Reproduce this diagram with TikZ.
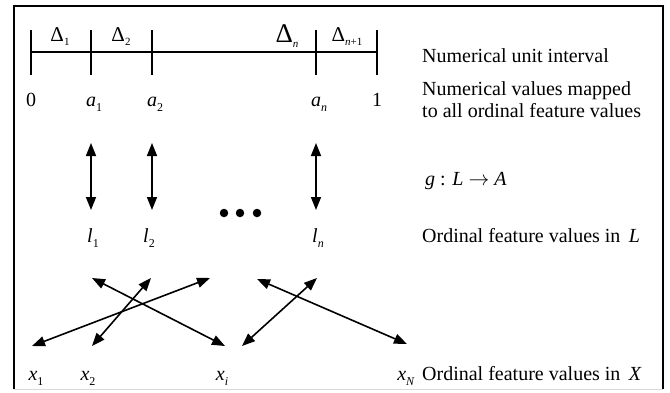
\documentclass[tikz,border=0pt]{standalone}
\usepackage{fontspec}
\setmainfont{Liberation Serif}
\usetikzlibrary{arrows.meta}
\newcommand{\sbx}[1]{\raisebox{-0.28em}{\fontsize{12}{12}\selectfont #1}}
\newcommand{\sbd}[1]{\raisebox{-0.22em}{\fontsize{11}{11}\selectfont #1}}
\newcommand{\vr}[2]{\textit{#1}\sbx{#2}}
\begin{document}
\begin{tikzpicture}[x=1pt,y=-1pt,
  font=\fontsize{20}{23}\selectfont,
  axis/.style={line width=1.8pt},
  dbl/.style={line width=1.6pt,{Triangle[length=13pt,width=10pt]}-{Triangle[length=13pt,width=10pt]}},
  lbl/.style={inner sep=0pt,anchor=base},
  txt/.style={inner sep=0pt,anchor=base west},
  dot/.style={circle,fill=black,inner sep=0pt,minimum size=8.5pt}]
\useasboundingbox (0,0) rectangle (670,392);
% frame
\draw[line width=1.6pt] (14,389) -- (14,6) -- (663,6) -- (663,389);
\draw[line width=1pt,black!15] (14,389) -- (663,389);
% number line
\draw[axis] (31,52) -- (377,52);
\foreach \t in {31,91,152,316,377} \draw[axis] (\t,30) -- (\t,75);
% interval labels
\node[lbl] (d1) at (60,41) {\fontsize{21}{21}\selectfont Δ\sbd{1}};
\node[lbl] (d2) at (121,41) {\fontsize{21}{21}\selectfont Δ\sbd{2}};
\node[lbl] (dn) at (287,42) {\fontsize{27}{27}\selectfont Δ\sbd{\textit{n}}};
\node[lbl] (dn1) at (347,41) {\fontsize{21}{21}\selectfont Δ\sbd{\textit{n}+1}};
% point labels
\node[lbl] (z0) at (31,106) {0};
\node[lbl] (a1) at (94,106) {\vr{a}{1}};
\node[lbl] (a2) at (155,106) {\vr{a}{2}};
\node[lbl] (an) at (319,106) {\vr{a}{\textit{n}}};
\node[lbl] (o1) at (377,106) {1};
% right texts
\node[txt] (t1) at (422,62) {Numerical unit interval};
\node[txt] (t2) at (422,95) {Numerical values mapped};
\node[txt] (t3) at (422,117) {to all ordinal feature values};
\node[txt] (t4) at (425,185) {\textit{g} : \textit{L} $\rightarrow$ \textit{A}};
\node[txt] (t5) at (422,242) {Ordinal feature values in\, \textit{L}};
\node[txt] (t6) at (422,380) {Ordinal feature values in\, \textit{X}};
% vertical mapping arrows
\coordinate (u1) at (91,143); \coordinate (v1) at (91,210);
\coordinate (u2) at (152,143); \coordinate (v2) at (152,210);
\coordinate (un) at (316,143); \coordinate (vn) at (316,210);
\draw[dbl] (u1) -- (v1);
\draw[dbl] (u2) -- (v2);
\draw[dbl] (un) -- (vn);
% dots
\node[dot] (p1) at (224,213) {};
\node[dot] (p2) at (240,213) {};
\node[dot] (p3) at (257,213) {};
% l labels
\node[lbl] (l1) at (93,242) {\vr{l}{1}};
\node[lbl] (l2) at (149,242) {\vr{l}{2}};
\node[lbl] (ln) at (318,242) {\vr{l}{\textit{n}}};
% x labels
\node[lbl] (x1) at (36,380) {\vr{x}{1}};
\node[lbl] (x2) at (88,380) {\vr{x}{2}};
\node[lbl] (xi) at (222,380) {\vr{x}{\textit{i}}};
\node[lbl] (xN) at (406,380) {\vr{x}{\textit{N}}};
% diagonal arrows
\coordinate (ta) at (92,278);  \coordinate (ba) at (225,346);
\coordinate (tb) at (151,278); \coordinate (bb) at (92,346);
\coordinate (tc) at (210,278); \coordinate (bc) at (32,346);
\coordinate (td) at (257,279); \coordinate (bd) at (407,344);
\coordinate (te) at (317,278); \coordinate (be) at (242,346);
\draw[dbl] (ta) -- (ba);
\draw[dbl] (tb) -- (bb);
\draw[dbl] (tc) -- (bc);
\draw[dbl] (td) -- (bd);
\draw[dbl] (te) -- (be);
\end{tikzpicture}
\end{document}
